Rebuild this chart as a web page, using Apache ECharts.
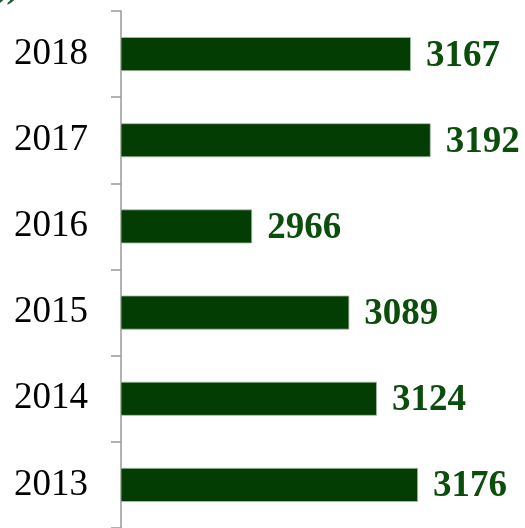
<!DOCTYPE html>
<html>
<head>
<meta charset="utf-8">
<script src="https://cdn.jsdelivr.net/npm/echarts@6/dist/echarts.min.js"></script>
<style>
  html, body { margin: 0; padding: 0; background: #fff; }
  #main { width: 525px; height: 528px; }
</style>
</head>
<body>
<div id="main"></div>
<script>
// years top to bottom in the picture
var years = ['2013', '2014', '2015', '2016', '2017', '2018'];
var values = [3176, 3124, 3089, 2966, 3192, 3167];

var chart = echarts.init(document.getElementById('main'));
var option = {
    animation: false,
    // bottom of a cut-off title above the chart
    graphic: [
        {
            type: 'text',
            left: -1,
            top: -26,
            style: {
                text: '))',
                fill: '#1f5a2a',
                font: 'italic bold 32px "Liberation Serif"'
            }
        },
        {
            type: 'text',
            left: 16,
            top: -24,
            style: {
                text: 'm',
                fill: '#c9d8cc',
                font: 'italic 30px "Liberation Serif"'
            }
        }
    ],
    grid: {
        left: 121,
        right: 9,
        top: 11,
        bottom: -1,
        containLabel: false
    },
    xAxis: {
        type: 'value',
        min: 2800,
        max: 3300,
        show: false
    },
    yAxis: {
        type: 'category',
        data: years,
        axisLine: { show: true, lineStyle: { color: '#999', width: 1.5 } },
        axisTick: { show: true, length: 10, lineStyle: { color: '#999', width: 1.5 } },
        axisLabel: {
            margin: 33,
            color: '#000',
            fontFamily: 'Liberation Serif',
            fontSize: 37
        },
        splitLine: { show: false }
    },
    series: [
        {
            type: 'bar',
            data: values,
            barWidth: 34,
            itemStyle: {
                color: '#033d03',
                borderColor: '#a9bfa9',
                borderWidth: 0.8
            },
            label: {
                show: true,
                position: 'right',
                distance: 15,
                offset: [0, 2],
                color: '#0b4d0b',
                fontFamily: 'Liberation Serif',
                fontWeight: 'bold',
                fontSize: 37
            }
        }
    ]
};
chart.setOption(option);
</script>
</body>
</html>
